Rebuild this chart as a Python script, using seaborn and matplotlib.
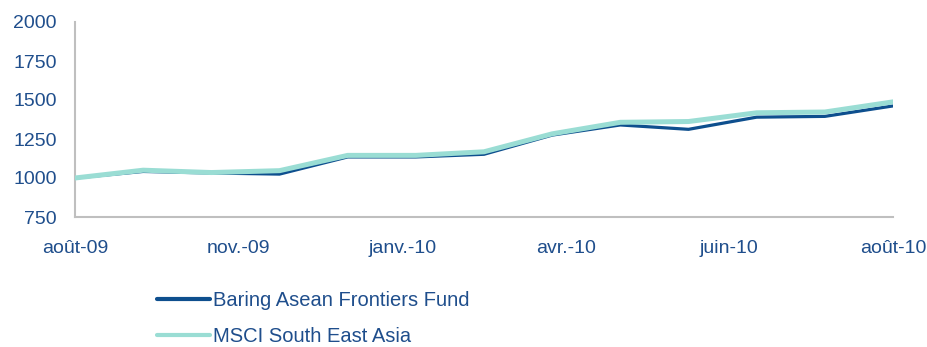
import matplotlib
matplotlib.use("Agg")
import matplotlib.pyplot as plt
import seaborn as sns
import pandas as pd

months = ["août-09", "sept.-09", "oct.-09", "nov.-09", "déc.-09", "janv.-10", "févr.-10",
          "mars-10", "avr.-10", "mai-10", "juin-10", "juil.-10", "août-10"]
baring = [1000, 1042, 1032, 1025, 1135, 1135, 1152, 1275, 1340, 1312, 1390, 1395, 1462]
msci = [1000, 1050, 1035, 1047, 1145, 1145, 1168, 1283, 1357, 1362, 1418, 1423, 1488]
tick_labels = ["août-09", "nov.-09", "janv.-10", "avr.-10", "juin-10", "août-10"]
tick_pos = [0, 2.4, 4.8, 7.2, 9.6, 12]
series_names = ["Baring Asean Frontiers Fund", "MSCI South East Asia"]

sns.set_style("white")
plt.rcParams["font.family"] = ["Liberation Sans", "DejaVu Sans"]

dark = "#0E4F8E"
light = "#9ADDD4"
text_c = "#1F4E8C"
grid_c = "#BFBFBF"

df_b = pd.DataFrame({"x": range(len(months)), "value": baring, "series": series_names[0]})
df_m = pd.DataFrame({"x": range(len(months)), "value": msci, "series": series_names[1]})

fig = plt.figure(figsize=(9.28, 3.47), dpi=100)
ax = fig.add_axes([75/928, 1-217/347, (893-75)/928, (217-22)/347])

sns.lineplot(data=df_b, x="x", y="value", color=dark, linewidth=2.3, ax=ax,
             label=series_names[0], zorder=3)
sns.lineplot(data=df_m, x="x", y="value", color=light, linewidth=3.6, ax=ax,
             label=series_names[1], zorder=4)

ax.set_xlim(0, 12)
ax.set_ylim(750, 2000)
ax.set_yticks([750, 1000, 1250, 1500, 1750, 2000])
ax.set_xticks(tick_pos)
ax.set_xticklabels(tick_labels)
ax.set_xlabel("")
ax.set_ylabel("")

for s in ["top", "right"]:
    ax.spines[s].set_visible(False)
for s in ["left", "bottom"]:
    ax.spines[s].set_color(grid_c)
    ax.spines[s].set_linewidth(1.5)
ax.tick_params(axis="both", colors=grid_c, labelcolor=text_c, labelsize=14,
               length=5, width=1.5, direction="out")
ax.tick_params(axis="x", pad=11.5)
ax.tick_params(axis="y", pad=8)
for sp in ax.spines.values():
    sp.set_clip_on(False)
ax.get_legend().remove()

handles, labels = ax.get_lines()[:2], series_names
leg = fig.legend(handles, labels, loc="upper left", bbox_to_anchor=(157/928, 1-291/347),
                 frameon=False, fontsize=14.5, handlelength=2.64, handletextpad=0.15,
                 labelspacing=0.85, borderpad=0, borderaxespad=0)
for t in leg.get_texts():
    t.set_color(text_c)
for h in leg.legend_handles:
    h.set_linewidth(3.0)

fig.savefig("out.png", dpi=100)
